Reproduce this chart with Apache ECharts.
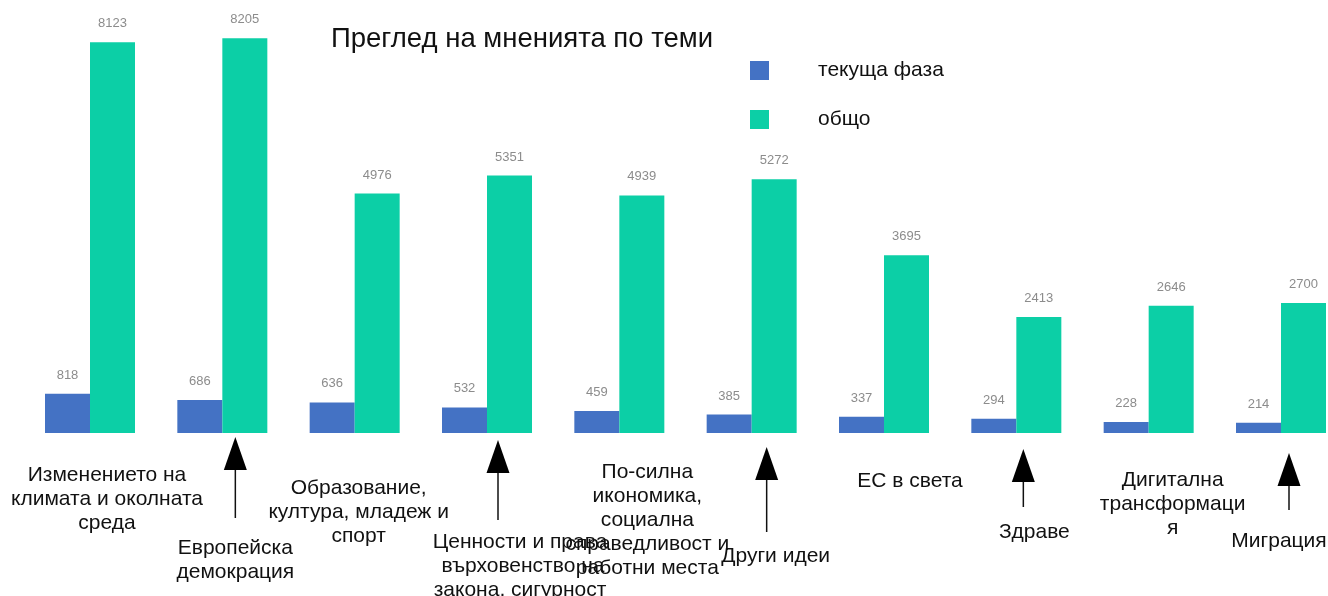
<!DOCTYPE html>
<html>
<head>
<meta charset="utf-8">
<script src="https://cdn.jsdelivr.net/npm/echarts@6/dist/echarts.min.js"></script>
<style>
  html, body { margin: 0; padding: 0; background: #fff; }
  #main { width: 1328px; height: 596px; }
</style>
</head>
<body>
<div id="main"></div>
<script>
// data
var categories = [
  'Изменението на\nклимата и околната\nсреда',
  'Европейска\nдемокрация',
  'Образование,\nкултура, младеж и\nспорт',
  'Ценности и права\n върховенство на\nзакона, сигурност',
  'По-силна\nикономика,\nсоциална\nсправедливост и\nработни места',
  'Други идеи',
  'ЕС в света',
  'Здраве',
  'Дигитална\nтрансформаци\nя',
  'Миграция'
];
var currentPhase = [818, 686, 636, 532, 459, 385, 337, 294, 228, 214];
var total = [8123, 8205, 4976, 5351, 4939, 5272, 3695, 2413, 2646, 2700];
var seriesNames = ['текуща фаза', 'общо'];

// layout of the hand placed labels / arrows (offset from category centre, y from top)
var labelPos = [
  [17, 475], [13, 548], [4, 488], [33, 542], [28, 472],
  [24, 556], [26, 481], [18, 532], [24, 480], [-2, 541]
];
var arrows = [
  // category, dx, tip y, tail y
  [1, 13, 437, 518],
  [3, 11, 440, 520],
  [5, 15, 447, 532],
  [7, 7, 449, 507],
  [9, 8, 453, 510]
];

var chart = echarts.init(document.getElementById('main'));

var labelStyle = {
  show: true,
  position: 'top',
  distance: 12,
  color: '#8c8c8c',
  fontSize: 13,
  fontFamily: 'Liberation Sans'
};

var option = {
  backgroundColor: '#fff',
  animation: false,
  textStyle: { fontFamily: 'Liberation Sans' },
  title: {
    text: 'Преглед на мненията по теми',
    left: 326,
    top: 20,
    textStyle: { fontSize: 27.5, fontWeight: 'normal', color: '#111', fontFamily: 'Liberation Sans' }
  },
  legend: {
    orient: 'vertical',
    left: 745,
    top: 55,
    itemWidth: 19,
    itemHeight: 19,
    itemGap: 28,
    icon: 'rect',
    data: seriesNames,
    textStyle: { fontSize: 21, color: '#111', padding: [0, 0, 0, 44], fontFamily: 'Liberation Sans' }
  },
  grid: {
    left: 90,
    top: 0,
    right: 47,
    height: 433
  },
  xAxis: {
    type: 'category',
    boundaryGap: false,
    data: categories,
    axisLine: { show: false },
    axisTick: { show: false },
    axisLabel: { show: false }
  },
  yAxis: {
    type: 'value',
    min: 0,
    max: 9000,
    show: false,
    splitLine: { show: false }
  },
  series: [
    {
      name: seriesNames[0],
      type: 'bar',
      barWidth: 45,
      barGap: '0%',
      itemStyle: { color: '#4472C4' },
      label: labelStyle,
      data: currentPhase
    },
    {
      name: seriesNames[1],
      type: 'bar',
      barWidth: 45,
      barGap: '0%',
      itemStyle: { color: '#0CCFA6' },
      label: labelStyle,
      data: total
    }
  ]
};

chart.setOption(option);

// category labels and arrows, placed off the axis scale
var elements = [];
var each = function (arr, fn) { for (var i = 0; i < arr.length; i++) fn(i, arr[i]); };

each(categories, function (i, name) {
  var cx = chart.convertToPixel({ xAxisIndex: 0 }, i);
  elements.push({
    type: 'text',
    x: cx + labelPos[i][0],
    y: labelPos[i][1] - 12,
    style: {
      text: name,
      fill: '#111',
      fontSize: 21,
      lineHeight: 24,
      fontFamily: 'Liberation Sans',
      align: 'center',
      verticalAlign: 'top'
    },
    z: 10
  });
});

each(arrows, function (i, a) {
  var x = chart.convertToPixel({ xAxisIndex: 0 }, a[0]) + a[1];
  var tip = a[2], tail = a[3];
  elements.push({
    type: 'line',
    shape: { x1: x, y1: tail, x2: x, y2: tip + 20 },
    style: { stroke: '#111', lineWidth: 1.5 },
    z: 10
  });
  elements.push({
    type: 'polygon',
    shape: { points: [[x, tip], [x - 11.5, tip + 33], [x + 11.5, tip + 33]] },
    style: { fill: '#000' },
    z: 10
  });
});

chart.setOption({ graphic: elements });
</script>
</body>
</html>
